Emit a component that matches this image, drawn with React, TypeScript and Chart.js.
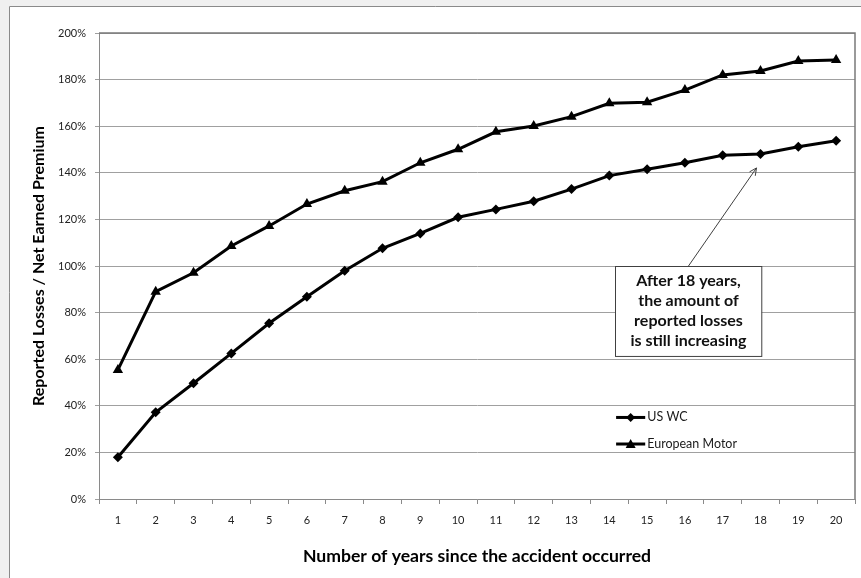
import React, { useEffect, useRef } from "react";
import { Chart, registerables } from "chart.js";

Chart.register(...registerables);

const years = ["1","2","3","4","5","6","7","8","9","10","11","12","13","14","15","16","17","18","19","20"];
const usWc = [17.9, 37.2, 49.7, 62.5, 75.4, 86.8, 98.0, 107.6, 114.0, 120.9, 124.3, 127.8, 133.0, 138.8, 141.5, 144.3, 147.5, 148.1, 151.2, 153.8];
const euroMotor = [55.4, 89.0, 97.1, 108.6, 117.2, 126.6, 132.3, 136.2, 144.3, 150.1, 157.6, 160.1, 164.1, 169.8, 170.3, 175.5, 182.0, 183.7, 188.0, 188.4];
const seriesNames = ["US WC", "European Motor"];
const noteLines = ["After 18 years,", "the amount of", "reported losses", "is still increasing"];
const yAxisTitle = "Reported Losses / Net Earned Premium";
const xAxisTitle = "Number of years since the accident occurred";

const FONT = "Lato, 'Liberation Sans', sans-serif";

const decorPlugin = {
  id: "decor",
  beforeDraw(chart: any) {
    const { ctx, width, height } = chart;
    ctx.save();
    ctx.fillStyle = "#f0f0f0";
    ctx.fillRect(0, 0, width, height);
    ctx.fillStyle = "#ffffff";
    ctx.fillRect(9, 6, width - 9, height - 6);
    ctx.strokeStyle = "#8a8a8a";
    ctx.lineWidth = 1;
    ctx.beginPath();
    ctx.moveTo(9.5, height);
    ctx.lineTo(9.5, 6.5);
    ctx.lineTo(width, 6.5);
    ctx.stroke();
    ctx.restore();
  },
  afterDatasetsDraw(chart: any) {
    const { ctx, chartArea: ca, scales } = chart;
    const xs = scales.x;
    const ys = scales.y;
    ctx.save();
    // plot border top/right
    ctx.strokeStyle = "#7a7a7a";
    ctx.lineWidth = 1.5;
    ctx.beginPath();
    ctx.moveTo(ca.left, ca.top);
    ctx.lineTo(ca.right, ca.top);
    ctx.lineTo(ca.right, ca.bottom);
    ctx.stroke();

    // legend
    const legendYs = [35, 23.6];
    const styles = ["rectRot", "triangle"];
    const lx0 = xs.getPixelForValue(13.18);
    const lx1 = xs.getPixelForValue(13.95);
    seriesNames.forEach((name, i) => {
      const y = ys.getPixelForValue(legendYs[i]);
      ctx.strokeStyle = "#000";
      ctx.lineWidth = 3;
      ctx.beginPath();
      ctx.moveTo(lx0, y);
      ctx.lineTo(lx1, y);
      ctx.stroke();
      ctx.fillStyle = "#000";
      ctx.lineWidth = 1;
      const cx = (lx0 + lx1) / 2;
      ctx.beginPath();
      if (styles[i] === "rectRot") {
        ctx.moveTo(cx, y - 4.5);
        ctx.lineTo(cx + 4.5, y);
        ctx.lineTo(cx, y + 4.5);
        ctx.lineTo(cx - 4.5, y);
      } else {
        ctx.moveTo(cx, y - 5);
        ctx.lineTo(cx + 5, y + 4);
        ctx.lineTo(cx - 5, y + 4);
      }
      ctx.closePath();
      ctx.fill();
      ctx.fillStyle = "#1a1a1a";
      ctx.font = `12.5px ${FONT}`;
      ctx.textAlign = "left";
      ctx.textBaseline = "middle";
      ctx.fillText(name, lx1 + 2, y);
    });

    // annotation box
    const bx0 = xs.getPixelForValue(13.16);
    const bx1 = xs.getPixelForValue(17.03);
    const by0 = ys.getPixelForValue(100);
    const by1 = ys.getPixelForValue(61.4);
    const bcx = (bx0 + bx1) / 2;
    ctx.fillStyle = "#ffffff";
    ctx.fillRect(bx0, by0, bx1 - bx0, by1 - by0);
    ctx.strokeStyle = "#404040";
    ctx.lineWidth = 1;
    ctx.strokeRect(Math.round(bx0) + 0.5, Math.round(by0) + 0.5, bx1 - bx0, by1 - by0);
    ctx.fillStyle = "#111";
    ctx.font = `bold 16px ${FONT}`;
    ctx.textAlign = "center";
    ctx.textBaseline = "middle";
    noteLines.forEach((line, i) => {
      ctx.fillText(line, bcx, by0 + 15 + i * 20);
    });

    // arrow
    const tx = xs.getPixelForValue(17) - 4;
    const ty = ys.getPixelForValue(usWc[17]) + 14;
    const sx = bcx;
    const sy = by0;
    ctx.strokeStyle = "#404040";
    ctx.lineWidth = 1;
    ctx.beginPath();
    ctx.moveTo(sx, sy);
    ctx.lineTo(tx, ty);
    const ang = Math.atan2(ty - sy, tx - sx);
    const hl = 8;
    ctx.moveTo(tx - hl * Math.cos(ang - 0.45), ty - hl * Math.sin(ang - 0.45));
    ctx.lineTo(tx, ty);
    ctx.lineTo(tx - hl * Math.cos(ang + 0.45), ty - hl * Math.sin(ang + 0.45));
    ctx.stroke();
    ctx.restore();
  },
};

export default function App() {
  const ref = useRef<HTMLCanvasElement>(null);
  useEffect(() => {
    if (!ref.current) return;
    const chart = new Chart(ref.current, {
      type: "line",
      data: {
        labels: years,
        datasets: [
          {
            label: seriesNames[0],
            data: usWc,
            borderColor: "#000",
            backgroundColor: "#000",
            borderWidth: 3,
            pointStyle: "rectRot",
            pointRadius: 5,
            pointBorderWidth: 0,
            tension: 0,
          },
          {
            label: seriesNames[1],
            data: euroMotor,
            borderColor: "#000",
            backgroundColor: "#000",
            borderWidth: 3,
            pointStyle: "triangle",
            pointRadius: 6,
            pointBorderWidth: 0,
            tension: 0,
          },
        ],
      },
      options: {
        responsive: false,
        animation: false,
        devicePixelRatio: 1,
        layout: { padding: { left: 0, top: 33, right: 2, bottom: 0 } },
        plugins: { legend: { display: false }, tooltip: { enabled: false } },
        scales: {
          x: {
            type: "category",
            offset: true,
            grid: {
              offset: true,
              drawOnChartArea: false,
              drawTicks: true,
              tickLength: 5,
              color: "#8a8a8a",
            },
            border: { display: true, color: "#8a8a8a" },
            ticks: {
              color: "#222",
              font: { family: FONT, size: 11 },
              padding: 10,
              maxRotation: 0,
              autoSkip: false,
            },
            title: {
              display: true,
              text: xAxisTitle,
              color: "#000",
              font: { family: FONT, size: 17.6, weight: "bold" },
              padding: { top: 0, bottom: 11 },
            },
            afterFit(scale: any) {
              scale.height = 79;
            },
          },
          y: {
            min: 0,
            max: 200,
            ticks: {
              stepSize: 20,
              color: "#222",
              font: { family: FONT, size: 11 },
              padding: 9,
              callback: (v: any) => `${v}%`,
            },
            grid: {
              color: "#a0a0a0",
              lineWidth: 1,
              tickLength: 4,
            },
            border: { display: true, color: "#8a8a8a" },
            title: {
              display: true,
              text: yAxisTitle,
              color: "#000",
              font: { family: FONT, size: 16, weight: "bold" },
              padding: { top: 29, bottom: 0 },
            },
            afterFit(scale: any) {
              scale.width = 99;
            },
          },
        },
      },
      plugins: [decorPlugin],
    } as any);
    return () => chart.destroy();
  }, []);
  return (
    <div style={{ position: "absolute", left: 0, top: 0, width: 861, height: 578 }}>
      <canvas ref={ref} width={861} height={578} style={{ width: 861, height: 578, display: "block" }} />
    </div>
  );
}
